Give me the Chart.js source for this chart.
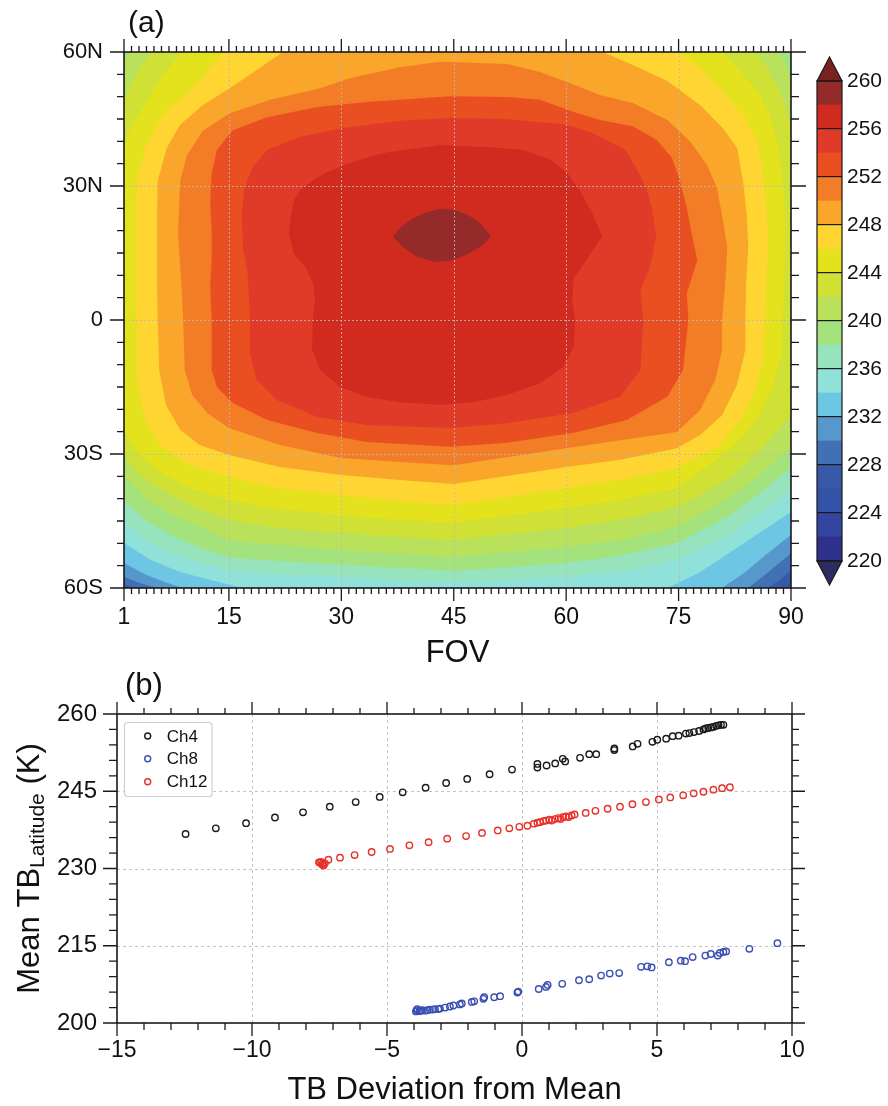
<!DOCTYPE html>
<html><head><meta charset="utf-8">
<script src="https://cdn.jsdelivr.net/npm/chart.js@4.4.1/dist/chart.umd.min.js"></script>
<style>
html,body{margin:0;padding:0;background:#fff;}
#wrap{position:relative;width:888px;height:1106px;overflow:hidden;background:#fff;}
canvas{position:absolute;left:0;}
</style></head><body>
<div id="wrap">
<canvas id="ca" width="888" height="665" style="top:0"></canvas>
<canvas id="cc" width="888" height="665" style="top:0"></canvas>
<canvas id="cb" width="888" height="441" style="top:665px"></canvas>
</div>
<script>
// ---------- Panel (a): axes ----------
const fovTicks = [1, 15, 30, 45, 60, 75, 90];
const latTicks = [-60, -30, 0, 30, 60];
const latTickLabels = ['60S', '30S', '0', '30N', '60N'];

// colour scale (band lower bounds, K) and colours
const tbBounds = [220,222,224,226,228,230,232,234,236,238,240,242,244,246,248,250,252,254,256,258,260];
const tbColors = ['#2f2f8c','#3444a1','#3452a6','#3858a8','#4170b4','#5798cc','#6dc6e4','#8fe1da','#96e3bd','#a3e27c',
                  '#b9e15c','#d0e034','#e4e11d','#fed531','#f9a62b','#f37c26','#ea4f22','#e03a28','#d12a1f','#952a2a'];
const tbOverColor = '#7a2222';
const tbUnderColor = '#2c2c62';
const cbTickValues = [220, 224, 228, 232, 236, 240, 244, 248, 252, 256, 260];
const tbFieldFloor = 224; // lowest band reached in the field (bottom-right corner)

// contour regions (TB >= level), vertices as [FOV, latitude]
const tb226 = [[1,60],[90,60],[90,-58.9],[89.2,-60],[1,-60]];
const tb228 = [[1,60],[90,60],[90,-56.0],[88.5,-58.2],[86.9,-60],[2.5,-60],[1,-59.3]];
const tb230 = [[1,60],[90,60],[90,-52.2],[86.5,-57.1],[84.3,-60],[5.4,-60],[3.1,-58.9],[1,-57.5]];
const tb232 = [[1,60],[90,60],[90,-48.1],[86.5,-52.8],[83.9,-56.4],[80.8,-60],[8.9,-60],[6.5,-58.7],[3.8,-56.9],[1,-54.4]];
const tb234 = [[1,60],[90,60],[90,-43.0],[85.9,-47.5],[81.9,-52.0],[77.9,-56.4],[73.6,-60],[16.9,-60],[12.5,-58.2],[8.5,-56.4],[4.5,-53.7],[1,-49.9]];
const tb236 = [[1,60],[90,60],[90,-38.1],[85.9,-43.2],[81.9,-48.1],[74.8,-53.7],[67.2,-56.4],[60.0,-57.5],[45.0,-58.7],[37.8,-58.2],[30.0,-57.5],[21.8,-56.9],[15.0,-56.0],[11.8,-54.6],[7.8,-52.6],[3.8,-49.3],[1,-45.4]];
const tb238 = [[1,60],[90,60],[90,-33.1],[85.9,-38.7],[81.9,-43.7],[74.8,-49.9],[67.2,-52.8],[60.0,-54.4],[45.0,-56.2],[37.8,-55.5],[30.0,-54.8],[21.8,-54.0],[15.0,-53.1],[11.8,-51.5],[7.8,-48.6],[3.8,-44.8],[1,-40.3]];
const tb240 = [[1.8,60],[88.3,60],[89.5,56.4],[90,54.2],[90,-28.4],[85.9,-34.5],[81.9,-39.6],[74.8,-46.3],[67.2,-49.3],[60.0,-50.8],[45.0,-53.1],[37.8,-52.4],[30.0,-51.5],[21.8,-50.4],[15.0,-49.3],[11.1,-46.3],[7.1,-43.4],[3.8,-39.8],[1,-34.7],[1,57.8]];
const tb242 = [[4.7,60],[85.2,60],[86.8,56.4],[88.5,51.3],[89.6,45.9],[90,43.7],[90,-21.3],[85.9,-29.1],[81.9,-35.4],[74.8,-41.9],[67.2,-44.8],[60.0,-46.6],[45.0,-49.3],[37.8,-48.6],[30.0,-47.7],[21.8,-46.6],[15.0,-44.8],[10.5,-41.9],[6.5,-38.5],[3.1,-34.7],[1,-30.2],[1,49.3],[1.9,52.6],[3.1,56.4]];
const tb244 = [[8.7,60],[80.9,60],[83.2,55.7],[85.5,51.3],[87.2,45.9],[88.3,38.5],[88.9,31.1],[89.2,23.5],[89.2,16.1],[89.1,7.8],[88.9,0],[88.8,-7.4],[87.6,-15.0],[85.9,-20.8],[83.2,-26.9],[80.1,-31.3],[74.8,-37.6],[67.2,-40.3],[60.0,-42.1],[45.0,-45.4],[37.8,-44.8],[30.0,-43.7],[21.8,-42.3],[15.0,-40.3],[9.8,-37.6],[5.8,-34.0],[3.1,-30.2],[1,-25.1],[1,39.2],[1.5,41.4],[2.7,45.2],[4.5,50.4],[6.5,55.5]];
const tb246 = [[14.2,60],[74.9,60],[77.9,56.4],[80.9,51.3],[83.6,45.9],[85.5,40.1],[86.3,32.5],[86.8,23.5],[86.9,16.1],[86.7,7.8],[86.5,0],[86.4,-7.8],[85.2,-15.7],[83.2,-22.4],[80.5,-28.0],[74.8,-33.1],[67.2,-35.8],[60.0,-37.6],[45.0,-41.4],[37.8,-40.5],[30.0,-39.2],[21.8,-37.6],[15.0,-35.1],[9.8,-32.5],[5.8,-28.0],[3.8,-22.4],[2.7,-13.4],[2.6,0],[2.5,9.0],[2.5,16.1],[2.5,23.5],[2.7,31.1],[3.8,38.5],[6.2,45.9],[11.1,53.5]];
const tb248 = [[22.2,60],[64.9,60],[68.9,57.1],[73.5,53.5],[77.9,48.1],[80.9,43.0],[82.8,38.5],[83.6,31.1],[84.1,23.5],[84.3,16.1],[84.0,7.8],[83.9,0],[83.9,-6.7],[82.8,-14.5],[80.8,-21.3],[77.9,-25.7],[74.8,-28.7],[67.2,-31.3],[60.0,-32.9],[45.0,-36.7],[37.8,-35.8],[30.0,-34.7],[21.8,-32.9],[15.0,-30.2],[11.1,-28.0],[8.5,-24.6],[6.6,-19.0],[5.7,-11.2],[5.5,0],[5.4,9.0],[5.4,16.1],[5.4,23.5],[5.5,31.1],[6.7,38.5],[8.5,43.7],[11.5,48.1],[15.1,51.9],[19.1,56.4]];
const tb250 = [[43.2,57.8],[52.1,57.3],[56.5,55.5],[60.9,52.8],[64.5,50.4],[68.9,48.6],[73.5,44.8],[76.5,40.1],[78.8,34.7],[80.1,29.6],[80.8,23.5],[81.5,16.1],[81.2,7.8],[80.8,0],[80.8,-6.7],[79.9,-13.4],[77.9,-20.1],[74.8,-25.1],[67.2,-26.9],[60.0,-28.7],[45.0,-32.5],[37.8,-31.8],[30.0,-30.9],[21.8,-28.0],[15.0,-24.2],[12.1,-20.8],[10.1,-16.8],[9.1,-11.2],[8.9,0],[8.7,6.7],[8.2,19.5],[8.5,31.1],[9.4,36.9],[11.5,42.3],[15.1,46.3],[20.5,49.3],[27.2,51.9],[31.2,54.2],[37.8,56.6]];
const tb252 = [[44.5,50.1],[52.1,49.9],[56.5,49.3],[60.9,46.6],[64.5,44.8],[68.9,43.4],[72.1,40.3],[74.1,36.3],[75.2,31.1],[76.1,25.1],[76.8,19.0],[77.5,13.4],[76.1,6.0],[76.3,0],[75.6,-11.2],[73.5,-17.2],[68.1,-22.4],[60.9,-25.3],[52.1,-27.5],[44.5,-28.4],[33.4,-27.3],[26.8,-25.3],[20.1,-22.4],[15.5,-18.6],[13.4,-15.0],[12.7,-11.2],[12.7,0],[12.5,7.4],[12.7,13.4],[12.7,19.5],[12.5,26.9],[12.7,32.9],[13.4,38.1],[15.5,42.5],[20.1,45.4],[26.8,47.7],[33.4,48.8]];
const tb254 = [[44.5,45.2],[52.1,45.0],[60.1,43.7],[63.2,42.1],[65.8,39.9],[67.9,38.1],[69.5,33.6],[70.8,29.1],[71.5,24.6],[72.0,18.6],[71.2,11.9],[69.9,6.7],[70.3,0],[69.9,-11.2],[67.2,-17.2],[60.9,-20.8],[52.1,-23.1],[44.5,-24.2],[33.4,-23.5],[26.8,-21.7],[21.4,-17.9],[18.7,-13.4],[17.8,-7.4],[17.8,0],[17.5,10.5],[16.9,15.7],[16.7,23.1],[17.1,29.8],[18.2,34.3],[20.1,38.1],[24.5,41.0],[30.2,43.0],[37.8,44.6]];
const tb256 = [[43.2,39.2],[49.8,38.7],[54.2,38.1],[57.8,36.0],[60.1,33.1],[61.8,29.1],[63.4,24.2],[64.8,18.8],[62.9,13.9],[61.0,9.4],[60.8,4.5],[61.2,0],[61.0,-6.0],[59.6,-10.5],[56.5,-14.1],[52.1,-16.8],[47.6,-18.4],[43.2,-19.0],[37.8,-18.4],[33.4,-17.2],[29.8,-15.0],[27.2,-11.2],[26.1,-6.7],[26.2,0],[26.5,4.5],[26.2,8.3],[25.2,11.9],[23.6,15.0],[23.0,19.5],[23.3,23.5],[23.7,26.9],[24.5,29.1],[26.1,31.1],[27.8,32.9],[31.2,35.2],[35.6,37.4]];
const tb258 = [[36.9,18.6],[37.8,20.6],[39.4,22.6],[41.2,24.0],[43.2,24.9],[45.2,24.6],[46.9,23.5],[48.5,21.7],[50.0,18.8],[48.9,16.8],[46.9,14.8],[44.8,13.4],[42.5,13.0],[40.2,14.1],[38.4,16.1]];

const contourLevels = [226,228,230,232,234,236,238,240,242,244,246,248,250,252,254,256,258];
const contourShapes = [tb226,tb228,tb230,tb232,tb234,tb236,tb238,tb240,tb242,tb244,tb246,tb248,tb250,tb252,tb254,tb256,tb258];

// ---------- Panel (b): data ----------
const devTicks = [-15, -10, -5, 0, 5, 10];
const meanTicks = [200, 215, 230, 245, 260];
const seriesNames = ['Ch4', 'Ch8', 'Ch12'];
const ch4 = [[-12.46,236.7],[-11.34,237.8],[-10.22,238.8],[-9.15,239.9],[-8.11,240.9],[-7.12,242.0],[-6.16,242.9],[-5.27,243.9],[-4.42,244.8],[-3.57,245.7],[-2.81,246.6],[-2.03,247.4],[-1.20,248.3],[-0.37,249.2],[0.57,250.3],[0.57,249.6],[0.91,250.0],[1.23,250.4],[1.51,251.3],[1.60,250.8],[2.15,251.5],[2.49,252.2],[2.75,252.2],[3.42,253.3],[3.42,253.0],[4.10,253.7],[4.28,254.2],[4.83,254.6],[5.01,255.0],[5.34,255.2],[5.58,255.7],[5.80,255.8],[6.07,256.2],[6.20,256.3],[6.37,256.5],[6.56,256.7],[6.72,257.0],[6.81,257.2],[6.90,257.3],[7.00,257.4],[7.09,257.5],[7.19,257.7],[7.28,257.8],[7.37,257.9],[7.46,257.9]];
const ch8 = [[-3.93,202.25],[-3.90,202.5],[-3.88,202.7],[-3.80,202.3],[-3.75,202.4],[-3.70,202.5],[-3.59,202.4],[-3.50,202.5],[-3.41,202.6],[-3.30,202.6],[-3.22,202.7],[-3.10,202.7],[-3.04,202.8],[-2.85,203.0],[-2.67,203.2],[-2.54,203.4],[-2.30,203.6],[-2.23,203.8],[-1.86,204.1],[-1.77,204.2],[-1.43,204.7],[-1.40,205.0],[-1.03,205.0],[-0.81,205.2],[-0.17,205.9],[-0.14,206.1],[0.62,206.6],[0.89,207.0],[0.95,207.4],[1.49,207.6],[2.11,208.3],[2.49,208.5],[2.93,209.2],[3.25,209.6],[3.60,209.7],[4.41,210.9],[4.64,211.0],[4.80,210.8],[5.44,211.8],[5.88,212.1],[6.04,212.0],[6.32,212.8],[6.79,213.1],[6.99,213.4],[7.25,213.1],[7.33,213.6],[7.46,213.8],[7.56,213.9],[8.42,214.4],[9.46,215.5]];
const ch12 = [[-7.52,231.2],[-7.48,231.1],[-7.44,231.3],[-7.40,230.8],[-7.38,231.0],[-7.35,230.6],[-7.30,231.0],[-7.17,231.7],[-6.74,232.1],[-6.20,232.6],[-5.57,233.2],[-4.89,233.8],[-4.17,234.5],[-3.46,235.1],[-2.77,235.8],[-2.07,236.3],[-1.48,236.9],[-0.90,237.4],[-0.47,237.8],[-0.10,238.1],[0.20,238.3],[0.44,238.7],[0.57,238.9],[0.67,239.0],[0.79,239.2],[0.89,239.3],[1.01,239.5],[1.10,239.3],[1.22,239.6],[1.35,239.8],[1.43,239.6],[1.53,240.0],[1.63,240.1],[1.73,240.0],[1.84,240.3],[1.95,240.5],[2.36,240.8],[2.72,241.2],[3.17,241.6],[3.63,242.0],[4.09,242.5],[4.59,242.9],[5.07,243.4],[5.49,243.8],[5.97,244.2],[6.36,244.6],[6.72,244.9],[7.09,245.3],[7.41,245.6],[7.70,245.8]];
const seriesColors = ['#1a1a1a', '#3a4fb4', '#e8302a'];

// ---------- common ----------
const FONT = '"Liberation Sans", Arial, Helvetica, sans-serif';
Chart.defaults.font.family = FONT;
Chart.defaults.color = '#111';
const bandColor = lvl => tbColors[tbBounds.indexOf(lvl)];
const toPts = arr => arr.map(p => ({x: p[0], y: p[1]}));
const range = (a, b, s) => { const r = []; for (let v = a; v <= b + 1e-9; v += s) r.push(+v.toFixed(6)); return r; };
const minus = v => (v < 0 ? '\u2212' + Math.abs(v) : String(v));

function drawGrid(chart, gx, gy, color, dash) {
  const {ctx, chartArea: a, scales: {x, y}} = chart;
  ctx.save();
  ctx.strokeStyle = color; ctx.lineWidth = 1; ctx.setLineDash(dash);
  gx.forEach(v => { const p = Math.round(x.getPixelForValue(v)) + 0.5; ctx.beginPath(); ctx.moveTo(p, a.top); ctx.lineTo(p, a.bottom); ctx.stroke(); });
  gy.forEach(v => { const p = Math.round(y.getPixelForValue(v)) + 0.5; ctx.beginPath(); ctx.moveTo(a.left, p); ctx.lineTo(a.right, p); ctx.stroke(); });
  ctx.restore();
}
function drawFrameTicks(chart, c) {
  const {ctx, chartArea: a, scales: {x, y}} = chart;
  ctx.save();
  ctx.strokeStyle = '#1a1a1a'; ctx.lineWidth = 1.3;
  c.tx.forEach(v => {
    const p = x.getPixelForValue(v), M = c.mx.includes(v);
    ctx.beginPath();
    ctx.moveTo(p, a.bottom); ctx.lineTo(p, a.bottom + (M ? c.bL[0] : c.bL[1]));
    ctx.moveTo(p, a.top); ctx.lineTo(p, a.top - (M ? c.tL[0] : c.tL[1]));
    ctx.stroke();
  });
  c.ty.forEach(v => {
    const p = y.getPixelForValue(v), M = c.my.includes(v);
    ctx.beginPath();
    ctx.moveTo(a.left, p); ctx.lineTo(a.left - (M ? c.lL[0] : c.lL[1]), p);
    ctx.moveTo(a.right, p); ctx.lineTo(a.right + (M ? c.rL[0] : c.rL[1]), p);
    ctx.stroke();
  });
  ctx.lineWidth = 1.6;
  ctx.strokeRect(a.left, a.top, a.right - a.left, a.bottom - a.top);
  ctx.restore();
}

// ---------- Chart A (contours) ----------
const contourFill = {
  id: 'contourFill',
  beforeDatasetsDraw(chart) {
    const {ctx, chartArea: a} = chart;
    ctx.save();
    ctx.beginPath(); ctx.rect(a.left, a.top, a.right - a.left, a.bottom - a.top); ctx.clip();
    ctx.fillStyle = bandColor(tbFieldFloor);
    ctx.fillRect(a.left, a.top, a.right - a.left, a.bottom - a.top);
    chart.data.datasets.forEach((ds, i) => {
      const pts = chart.getDatasetMeta(i).data;
      ctx.beginPath();
      pts.forEach((p, j) => (j ? ctx.lineTo(p.x, p.y) : ctx.moveTo(p.x, p.y)));
      ctx.closePath();
      ctx.fillStyle = ds.backgroundColor;
      ctx.fill();
    });
    ctx.restore();
  },
  afterDatasetsDraw(chart) {
    drawGrid(chart, fovTicks.slice(1, -1), latTicks.slice(1, -1), 'rgba(185,185,185,0.85)', [2, 2]);
    drawFrameTicks(chart, {
      tx: range(1, 90, 1), mx: fovTicks, ty: range(-60, 60, 5), my: latTicks,
      bL: [13, 6], tL: [13, 6], lL: [14, 7], rL: [15, 8]
    });
  },
  afterDraw(chart) {
    const ctx = chart.ctx;
    ctx.save();
    ctx.fillStyle = '#111'; ctx.font = '30px ' + FONT; ctx.textBaseline = 'alphabetic';
    ctx.fillText('(a)', 128, 32);
    ctx.restore();
  }
};

new Chart(document.getElementById('ca'), {
  type: 'scatter',
  data: {
    datasets: contourLevels.map((lvl, i) => ({
      label: 'TB \u2265 ' + lvl + ' K',
      data: toPts(contourShapes[i]),
      backgroundColor: bandColor(lvl),
      borderColor: bandColor(lvl),
      pointRadius: 0, pointHoverRadius: 0, showLine: false
    }))
  },
  options: {
    responsive: false, animation: false, devicePixelRatio: 1, events: [],
    layout: {padding: {left: 0, top: 52, right: 97, bottom: 0}},
    plugins: {legend: {display: false}, tooltip: {enabled: false}},
    scales: {
      x: {
        type: 'linear', min: 1, max: 90,
        grid: {display: false, drawTicks: false}, border: {display: false},
        afterBuildTicks: s => { s.ticks = fovTicks.map(v => ({value: v})); },
        afterFit: s => { s.height = 77; },
        ticks: {autoSkip: false, maxRotation: 0, padding: 16, font: {size: 23}, color: '#111', callback: v => String(v)},
        title: {display: true, text: 'FOV', font: {size: 31, lineHeight: 0.74}, padding: 0, color: '#111'}
      },
      y: {
        type: 'linear', min: -60, max: 60,
        grid: {display: false, drawTicks: false}, border: {display: false},
        afterBuildTicks: s => { s.ticks = latTicks.map(v => ({value: v})); },
        afterFit: s => { s.width = 124; },
        ticks: {autoSkip: false, padding: 21, font: {size: 22}, color: '#111', callback: v => latTickLabels[latTicks.indexOf(v)]}
      }
    }
  },
  plugins: [contourFill]
});

// ---------- Chart C (colour bar) ----------
const cbEnds = {
  id: 'cbEnds',
  afterDraw(chart) {
    const {ctx, chartArea: a} = chart;
    const cx = (a.left + a.right) / 2, h = 24;
    ctx.save();
    ctx.lineWidth = 1.2; ctx.strokeStyle = '#1a1a1a';
    ctx.fillStyle = tbOverColor;
    ctx.beginPath(); ctx.moveTo(a.left, a.top); ctx.lineTo(cx, a.top - h); ctx.lineTo(a.right, a.top); ctx.closePath(); ctx.fill(); ctx.stroke();
    ctx.fillStyle = tbUnderColor;
    ctx.beginPath(); ctx.moveTo(a.left, a.bottom); ctx.lineTo(cx, a.bottom + h); ctx.lineTo(a.right, a.bottom); ctx.closePath(); ctx.fill(); ctx.stroke();
    ctx.strokeRect(a.left, a.top, a.right - a.left, a.bottom - a.top);
    ctx.restore();
  }
};
new Chart(document.getElementById('cc'), {
  type: 'bar',
  data: {
    labels: ['TB'],
    datasets: tbColors.map((c, i) => ({
      data: [[tbBounds[i], tbBounds[i + 1]]], backgroundColor: c, borderWidth: 0,
      grouped: false, barPercentage: 1, categoryPercentage: 1
    }))
  },
  options: {
    responsive: false, animation: false, devicePixelRatio: 1, events: [],
    layout: {padding: {left: 817, top: 81, right: 0, bottom: 104}},
    plugins: {legend: {display: false}, tooltip: {enabled: false}},
    scales: {
      x: {display: false},
      y: {
        position: 'right', min: 220, max: 260,
        afterBuildTicks: s => { s.ticks = cbTickValues.map(v => ({value: v})); },
        afterFit: s => { s.width = 46; },
        grid: {display: true, color: '#1a1a1a', lineWidth: 1.2, drawTicks: false, z: 1},
        border: {display: false},
        ticks: {autoSkip: false, padding: 5, font: {size: 21}, color: '#111'}
      }
    }
  },
  plugins: [cbEnds]
});

// ---------- Chart B (scatter) ----------
const panelB = {
  id: 'panelB',
  beforeDatasetsDraw(chart) {
    drawGrid(chart, devTicks.slice(1, -1), meanTicks.slice(1, -1), '#c4c4c4', [3, 3]);
  },
  afterDatasetsDraw(chart) {
    drawFrameTicks(chart, {
      tx: range(-15, 10, 1), mx: devTicks, ty: range(200, 260, 3), my: meanTicks,
      bL: [13, 7], tL: [12, 6], lL: [14, 8], rL: [13, 7]
    });
  },
  afterDraw(chart) {
    const {ctx, chartArea: a} = chart;
    ctx.save();
    ctx.fillStyle = '#111';
    // panel label
    ctx.font = '31px ' + FONT; ctx.textBaseline = 'alphabetic'; ctx.textAlign = 'left';
    ctx.fillText('(b)', 125, 30);
    // y title with subscript
    const big = '31px ' + FONT, small = '21px ' + FONT;
    ctx.font = big; const w1 = ctx.measureText('Mean TB').width; const w3 = ctx.measureText(' (K)').width;
    ctx.font = small; const w2 = ctx.measureText('Latitude').width;
    const tot = w1 + w2 + w3;
    ctx.translate(39, (a.top + a.bottom) / 2); ctx.rotate(-Math.PI / 2);
    let x0 = -tot / 2;
    ctx.font = big; ctx.fillText('Mean TB', x0, 0); x0 += w1;
    ctx.font = small; ctx.fillText('Latitude', x0, 4.5); x0 += w2;
    ctx.font = big; ctx.fillText(' (K)', x0, 0);
    ctx.restore();
    // legend
    ctx.save();
    const lx = a.left + 7.5, ly = a.top + 8.5, lw = 87.5, lh = 74, r = 3;
    ctx.beginPath();
    ctx.moveTo(lx + r, ly); ctx.lineTo(lx + lw - r, ly); ctx.arcTo(lx + lw, ly, lx + lw, ly + r, r);
    ctx.lineTo(lx + lw, ly + lh - r); ctx.arcTo(lx + lw, ly + lh, lx + lw - r, ly + lh, r);
    ctx.lineTo(lx + r, ly + lh); ctx.arcTo(lx, ly + lh, lx, ly + lh - r, r);
    ctx.lineTo(lx, ly + r); ctx.arcTo(lx, ly, lx + r, ly, r); ctx.closePath();
    ctx.fillStyle = '#fff'; ctx.fill(); ctx.strokeStyle = '#cfcfcf'; ctx.lineWidth = 1.2; ctx.stroke();
    const rows = [22, 44.7, 67.7];
    ctx.font = '17px ' + FONT; ctx.textBaseline = 'middle'; ctx.textAlign = 'left';
    chart.data.datasets.forEach((ds, i) => {
      const yy = a.top + rows[i];
      ctx.beginPath(); ctx.arc(a.left + 30.7, yy, 3, 0, Math.PI * 2);
      ctx.strokeStyle = ds.borderColor; ctx.lineWidth = 1.4; ctx.stroke();
      ctx.fillStyle = '#111'; ctx.fillText(ds.label, a.left + 49.7, yy + 1);
    });
    ctx.restore();
  }
};
new Chart(document.getElementById('cb'), {
  type: 'scatter',
  data: {
    datasets: [ch4, ch8, ch12].map((s, i) => ({
      label: seriesNames[i], data: toPts(s),
      borderColor: seriesColors[i], backgroundColor: 'rgba(0,0,0,0)',
      pointRadius: 3.2, pointBorderWidth: 1.4, pointHoverRadius: 3.2, showLine: false
    }))
  },
  options: {
    responsive: false, animation: false, devicePixelRatio: 1, events: [],
    layout: {padding: {left: 0, top: 49, right: 96, bottom: 0}},
    plugins: {legend: {display: false}, tooltip: {enabled: false}},
    scales: {
      x: {
        type: 'linear', min: -15, max: 10,
        grid: {display: false, drawTicks: false}, border: {display: false},
        afterBuildTicks: s => { s.ticks = devTicks.map(v => ({value: v})); },
        afterFit: s => { s.height = 83; },
        ticks: {autoSkip: false, maxRotation: 0, padding: 14, font: {size: 23}, color: '#111', callback: v => minus(v)},
        title: {display: true, text: 'TB Deviation from Mean', font: {size: 31, lineHeight: 1.02}, padding: 0, color: '#111'}
      },
      y: {
        type: 'linear', min: 200, max: 260,
        grid: {display: false, drawTicks: false}, border: {display: false},
        afterBuildTicks: s => { s.ticks = meanTicks.map(v => ({value: v})); },
        afterFit: s => { s.width = 117; },
        ticks: {autoSkip: false, padding: 20, font: {size: 24}, color: '#111', callback: v => String(v)}
      }
    }
  },
  plugins: [panelB]
});
</script>
</body></html>
